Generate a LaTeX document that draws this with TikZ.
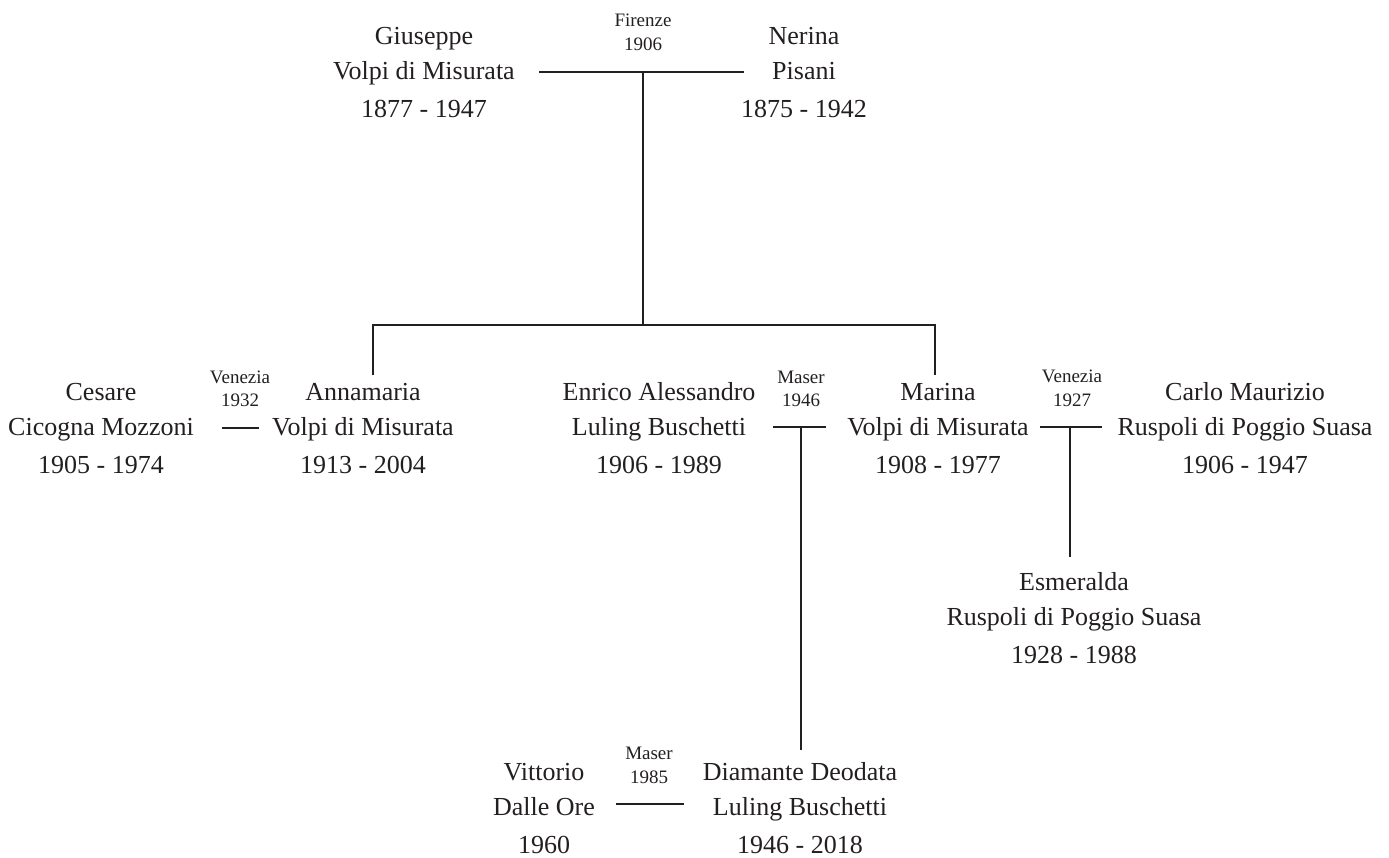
\documentclass[tikz,border=0pt]{standalone}
\usepackage{fontspec}
\setmainfont{Liberation Serif}
\usetikzlibrary{positioning}
\definecolor{ink}{HTML}{231F20}
\newcommand{\who}[3]{\begin{tabular}[t]{@{}c@{}}#1\\#2\\[3pt]#3\end{tabular}}
\newcommand{\wed}[2]{\begin{tabular}[t]{@{}c@{}}#1\\#2\end{tabular}}
\tikzset{
  person/.style={inner sep=0pt, anchor=base, text=ink, font=\fontsize{26}{35}\selectfont},
  wedding/.style={inner sep=0pt, anchor=base, text=ink, font=\fontsize{19}{24}\selectfont},
  link/.style={draw=ink, line width=2.8pt}
}
\begin{document}
\begin{tikzpicture}[x=1pt, y=-1pt]
    \useasboundingbox (0,0) rectangle (1389,858);
    % first generation
    \node [person] (giuseppe) at (424,45) {\who{Giuseppe}{Volpi di Misurata}{1877 - 1947}};
    \node [person] (nerina) at (804,45) {\who{Nerina}{Pisani}{1875 - 1942}};
    \node [wedding] (firenze) at (643,27) {\wed{Firenze}{1906}};
    \coordinate (u1) at (643,72);
    \coordinate (bus) at (643,325);
    \draw [link] ([xshift=-104pt]u1) -- ([xshift=101pt]u1);
    \draw [link] (u1) -- (bus);
    % children
    \node [person] (cesare) at (101,400) {\who{Cesare}{Cicogna Mozzoni}{1905 - 1974}};
    \node [person] (annamaria) at (363,400) {\who{Annamaria}{Volpi di Misurata}{1913 - 2004}};
    \node [person] (enrico) at (659,400) {\who{Enrico Alessandro}{Luling Buschetti}{1906 - 1989}};
    \node [person] (marina) at (938,400) {\who{Marina}{Volpi di Misurata}{1908 - 1977}};
    \node [person] (carlo) at (1245,400) {\who{Carlo Maurizio}{Ruspoli di Poggio Suasa}{1906 - 1947}};
    \draw [link] ([xshift=10pt]annamaria.north) |- (bus) -| ([xshift=-3pt]marina.north);
    \node [wedding] (venezia1) at (240,383) {\wed{Venezia}{1932}};
    \node [wedding] (maser1) at (801,383) {\wed{Maser}{1946}};
    \node [wedding] (venezia2) at (1072,382) {\wed{Venezia}{1927}};
    \coordinate (u2) at (240,428);
    \coordinate (u3) at (801,427);
    \coordinate (u4) at (1070,427);
    \draw [link] ([xshift=-18pt]u2) -- ([xshift=19pt]u2);
    \draw [link] ([xshift=-28pt]u3) -- ([xshift=25pt]u3);
    \draw [link] ([xshift=-30pt]u4) -- ([xshift=32pt]u4);
    % grandchildren
    \node [person] (esmeralda) at (1074,590) {\who{Esmeralda}{Ruspoli di Poggio Suasa}{1928 - 1988}};
    \node [person] (diamante) at (800,780) {\who{Diamante Deodata}{Luling Buschetti}{1946 - 2018}};
    \node [person] (vittorio) at (544,780) {\who{Vittorio}{Dalle Ore}{1960}};
    \node [wedding] (maser2) at (649,759) {\wed{Maser}{1985}};
    \coordinate (u5) at (650,804);
    \draw [link, shorten >=8pt] (u4) -- (u4 |- esmeralda.north);
    \draw [link, shorten >=5pt] (u3) -- (u3 |- diamante.north);
    \draw [link] ([xshift=-34pt]u5) -- ([xshift=34pt]u5);
\end{tikzpicture}
\end{document}
